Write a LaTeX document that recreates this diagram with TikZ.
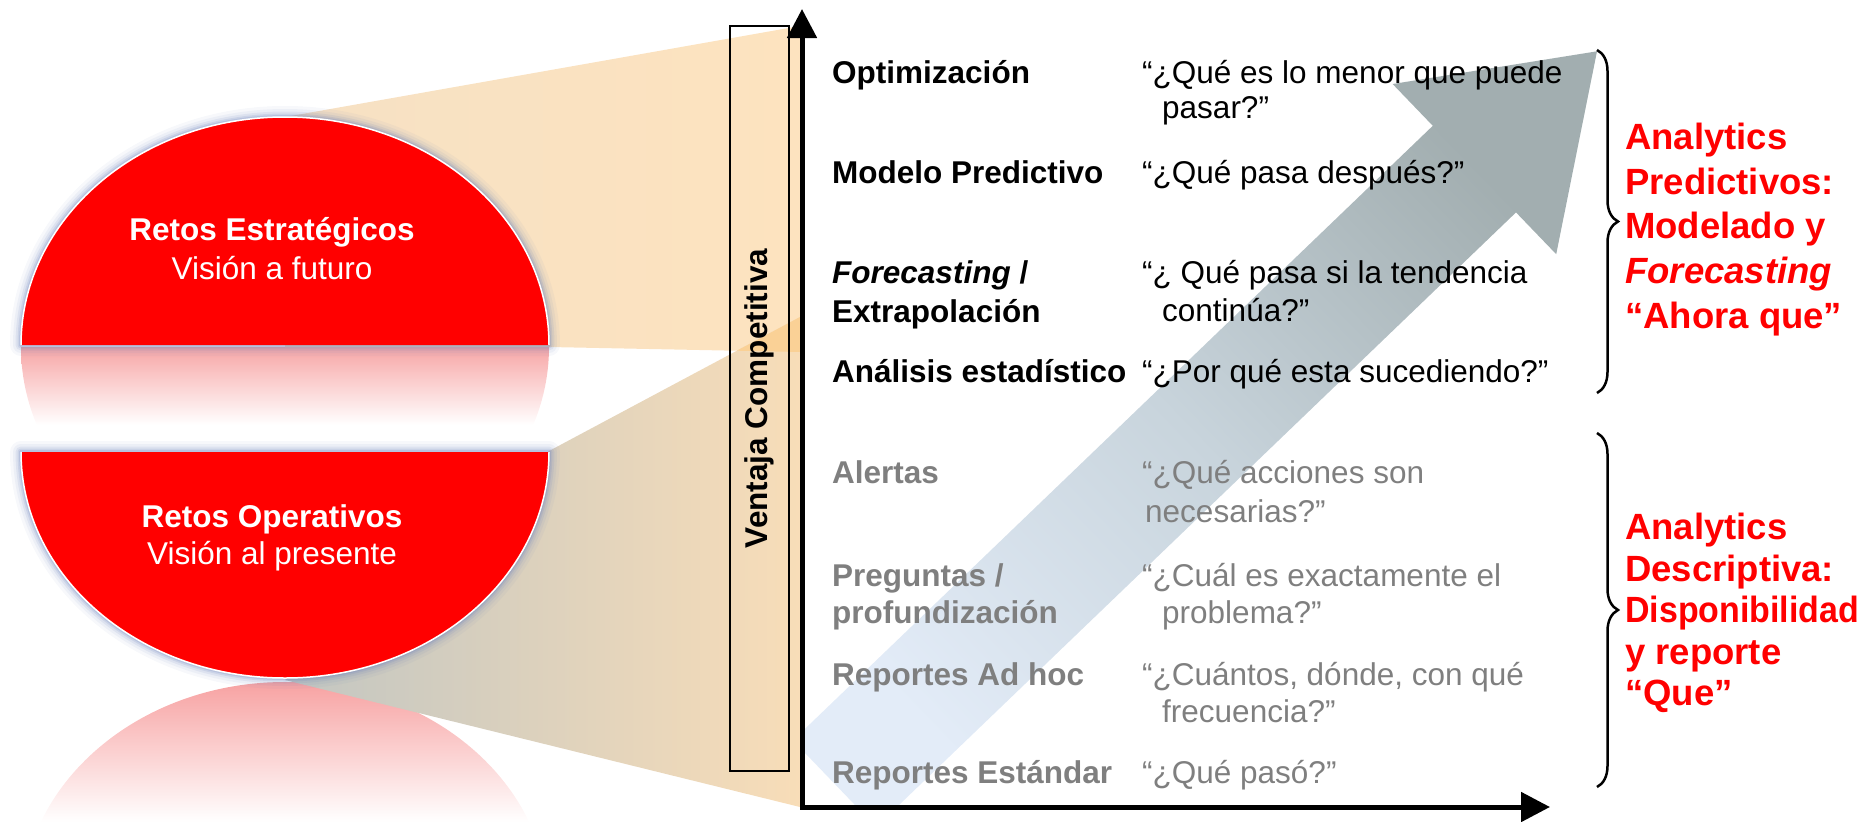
\documentclass[tikz,border=0pt]{standalone}
\usepackage{fontspec}
\setmainfont{Liberation Sans}
\usetikzlibrary{arrows.meta,decorations.pathreplacing}
\definecolor{shred}{HTML}{FF0000}
\definecolor{reflA}{HTML}{F7A6A6}
\definecolor{reflB}{HTML}{F7A2A2}
\definecolor{glowc}{HTML}{6F85BD}
\definecolor{wedgeA}{HTML}{F6E1C4}
\definecolor{wedgeB}{HTML}{FDE3BF}
\definecolor{lowA}{HTML}{C2C6C2}
\definecolor{lowB}{HTML}{F8DDB8}
\definecolor{overlapc}{HTML}{FAD196}
\definecolor{arrtop}{HTML}{A2AEB0}
\definecolor{arrmid}{HTML}{C8D4DC}
\definecolor{arrbot}{HTML}{E3ECF8}
\definecolor{txtgray}{HTML}{7F7F7F}
\newcommand\myfs{\fontsize{31.5}{37}\selectfont}
\newcommand\myredfs{\fontsize{36.5}{42}\selectfont\bfseries}
\begin{document}
\begin{tikzpicture}[x=1pt,y=-1pt,
  col/.style={anchor=base west, inner sep=0pt, font=\myfs},
  colb/.style={col, font=\myfs\bfseries},
  colg/.style={colb, text=txtgray},
  colqg/.style={col, text=txtgray},
  redl/.style={anchor=base west, inner sep=0pt, text=shred, font=\myredfs},
  wtitle/.style={anchor=base, inner sep=0pt, text=white, font=\myfs\bfseries},
  wsub/.style={anchor=base, inner sep=0pt, text=white, font=\myfs},
  glowline/.style={draw=glowc, line join=round},
  bracestyle/.style={decorate, decoration={brace, amplitude=21pt}, line width=2.5pt},
]
\useasboundingbox (0,0) rectangle (1864,822);

% reflections
\begin{scope}
  \clip (21,347) arc[start angle=180,end angle=360,x radius=264pt,y radius=228pt] -- cycle;
  \shade[top color=reflA, bottom color=white] (0,347) rectangle (560,425);
\end{scope}
\begin{scope}
  \clip (21,908) arc[start angle=180,end angle=0,x radius=264pt,y radius=226pt] -- cycle;
  \shade[top color=reflB, bottom color=white] (0,682) rectangle (560,822);
\end{scope}

% wedges
\shade[left color=wedgeA, right color=wedgeB] (285,117) -- (800,26) -- (800,352) -- (549,347) -- (285,347) -- cycle;
\shade[left color=lowA, right color=lowB] (549,451) -- (800,317) -- (800,807) -- (285,680) -- cycle;
\fill[overlapc] (736.8,350.7) -- (800,317) -- (800,352) -- cycle;

% glows
\foreach \w/\o in {22/0.06,16/0.08,11/0.12,7/0.16,4/0.22}{
  \draw[glowline, line width=\w pt, draw opacity=\o] (21,345) arc[start angle=180,end angle=0,x radius=264pt,y radius=228pt] -- cycle;
  \draw[glowline, line width=\w pt, draw opacity=\o] (21,452) arc[start angle=180,end angle=360,x radius=264pt,y radius=226pt] -- cycle;
}
% red half ellipses
\fill[shred] (21,345) arc[start angle=180,end angle=0,x radius=264pt,y radius=228pt] -- cycle;
\draw[white, line width=1.5pt] (21,345) arc[start angle=180,end angle=0,x radius=264pt,y radius=228pt];
\fill[shred] (21,452) arc[start angle=180,end angle=360,x radius=264pt,y radius=226pt] -- cycle;
\draw[white, line width=1.5pt] (21,452) arc[start angle=180,end angle=360,x radius=264pt,y radius=226pt];

\node[wtitle] (re) at (272,240) {Retos Estratégicos};
\node[wsub] (vf) at (272,279) {Visión a futuro};
\node[wtitle] (ro) at (272,527) {Retos Operativos};
\node[wsub] (vp) at (272,564) {Visión al presente};

% box
\node[draw, line width=2pt, minimum width=59pt, minimum height=745pt, inner sep=0pt] (vbox) at (759.5,398.5) {};
\node[rotate=90, font=\myfs\bfseries, inner sep=0pt] (vtext) at (vbox.center) {Ventaja Competitiva};

% diagonal arrow
\begin{scope}
  \clip (804,0) rectangle (1864,804);
  \shade[top color=arrtop, bottom color=arrbot, middle color=arrmid, shading angle=-46]
    (792.9,740.4) -- (1432.8,125.8) -- (1392.6,84.0) -- (1597,51.3) -- (1556.2,254.2) -- (1516,212.4) -- (876.1,827) -- cycle;
\end{scope}

% axes
\coordinate (ytop) at (802,9);
\coordinate (orig) at (802,807);
\coordinate (xend) at (1550,807);
\draw[line width=5pt, {Triangle[length=29pt,width=29pt]}-{Triangle[length=29pt,width=29pt]}] (ytop) -- (orig) -- (xend);

% left column
\node[colb] (n1) at (832,83) {Optimización};
\node[colb] (n2) at (832,183) {Modelo Predictivo};
\node[colb] (n3a) at (832,283) {\itshape Forecasting\upshape{} /};
\node[colb] (n3b) at (832,322) {Extrapolación};
\node[colb] (n4) at (832,382) {Análisis estadístico};
\node[colg] (n5) at (832,483) {Alertas};
\node[colg] (n6a) at (832,586) {Preguntas /};
\node[colg] (n6b) at (832,623) {profundización};
\node[colg] (n7) at (832,685) {Reportes Ad hoc};
\node[colg] (n8) at (832,783) {Reportes Estándar};

% right column
\node[col] (q1a) at (1142,83) {“¿Qué es lo menor que puede};
\node[col] (q1b) at (1162,118) {pasar?”};
\node[col] (q2) at (1142,183) {“¿Qué pasa después?”};
\node[col] (q3a) at (1142,283) {“¿ Qué pasa si la tendencia};
\node[col] (q3b) at (1162,321) {continúa?”};
\node[col] (q4) at (1142,382) {“¿Por qué esta sucediendo?”};
\node[colqg] (q5a) at (1142,483) {“¿Qué acciones son};
\node[colqg] (q5b) at (1145,522) {necesarias?”};
\node[colqg] (q6a) at (1142,586) {“¿Cuál es exactamente el};
\node[colqg] (q6b) at (1162,623) {problema?”};
\node[colqg] (q7a) at (1142,685) {“¿Cuántos, dónde, con qué};
\node[colqg] (q7b) at (1162,722) {frecuencia?”};
\node[colqg] (q8) at (1142,783) {“¿Qué pasó?”};

% braces
\coordinate (b1t) at (1597,50);
\coordinate (b1b) at (1597,393);
\coordinate (b2t) at (1597,433);
\coordinate (b2b) at (1597,787);
\draw[bracestyle] (b1t) -- (b1b);
\draw[bracestyle] (b2t) -- (b2b);

% red labels
\node[redl] (r1) at (1625,149) {Analytics};
\node[redl] (r2) at (1625,194) {Predictivos:};
\node[redl] (r3) at (1625,238) {Modelado y};
\node[redl] (r4) at (1625,283) {\itshape Forecasting};
\node[redl] (r5) at (1625,328) {“Ahora que”};
\node[redl] (s1) at (1625,539) {Analytics};
\node[redl] (s2) at (1625,581) {Descriptiva:};
\node[redl] (s3) at (1625,622) {\scalebox{0.93}[1]{Disponibilidad}};
\node[redl] (s4) at (1625,664) {y reporte};
\node[redl] (s5) at (1625,705) {“Que”};
\end{tikzpicture}
\end{document}
